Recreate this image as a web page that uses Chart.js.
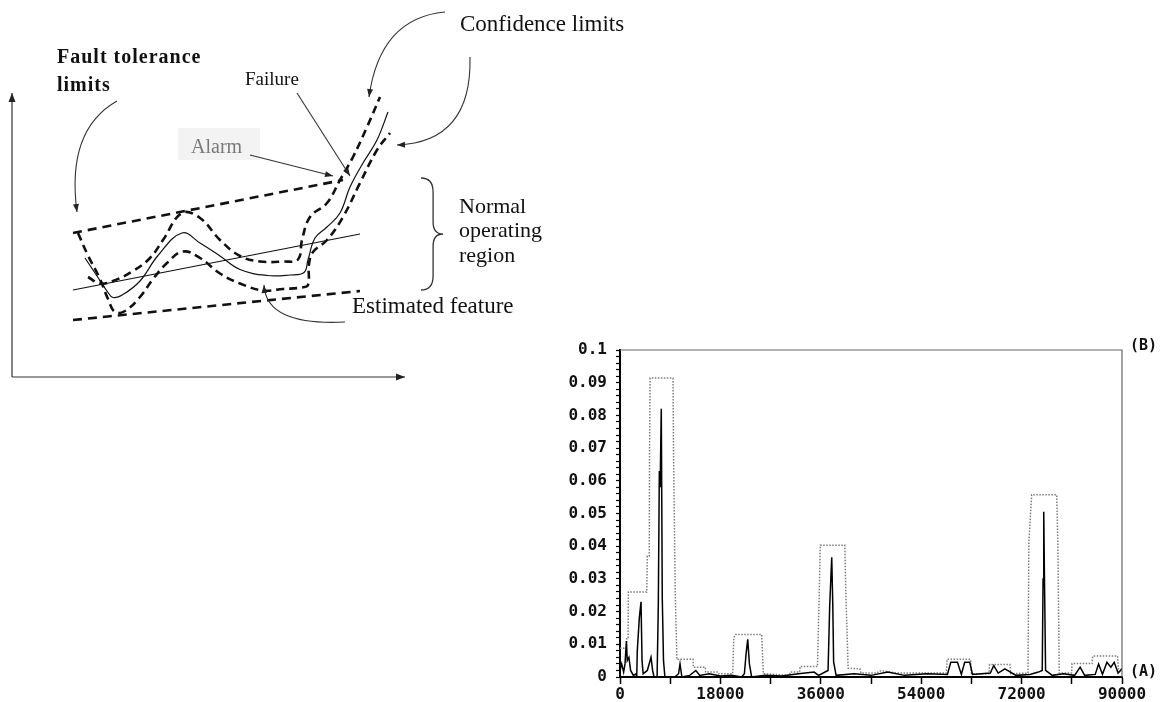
<!DOCTYPE html>
<html lang="en">
<head>
<meta charset="UTF-8">
<title>Fault tolerance limits and detection trace</title>
<script src="https://cdn.jsdelivr.net/npm/chart.js"></script>
<style>
  html, body { margin: 0; padding: 0; background: #fff; }
  body { width: 1162px; height: 702px; position: relative; overflow: hidden; }
  #sketch { position: absolute; left: 0; top: 0; }
  #trace { position: absolute; left: 555px; top: 330px; }
</style>
</head>
<body>
<canvas id="sketch" width="660" height="420"></canvas>
<canvas id="trace" width="607" height="372"></canvas>
<script>
// ---- schematic (left), in sketch units ----
const upperLimit = [[73, 233], [343, 180]];
const lowerLimit = [[73, 320], [360, 291]];
const trendLine = [[73, 290], [360, 234]];
const feature = [[85, 258], [97, 276], [107, 291], [113, 297.5], [123, 294.5], [140, 281], [158, 255.5], [182, 233],
  [200, 243], [220, 256], [240, 269.5], [267, 275.5], [290, 275], [304, 272.5], [308, 260], [315, 238], [327, 227],
  [340, 213], [350, 187], [363, 163], [377, 140], [388, 112]];
const upperConf = [[88, 277], [100, 283.5], [113, 281], [133, 271], [150, 258], [163, 240], [182, 213], [200, 218],
  [220, 240], [240, 256], [260, 261.5], [283, 261.5], [298, 259.5], [302, 240], [310, 217], [327, 203], [340, 180],
  [353, 157], [367, 127], [380, 97]];
const lowerConf = [[78, 233], [88, 255.5], [100, 279], [108, 299], [115, 312], [125, 311], [140, 297], [153, 279],
  [167, 263], [183, 251.5], [200, 258], [220, 273.5], [240, 283.5], [263, 290.5], [283, 289], [302, 287.5],
  [308, 285], [309, 264], [313, 252], [327, 240], [343, 217], [360, 183], [377, 150], [390, 133]];
const axisV = [[12, 377], [12, 93]];
const axisH = [[12, 377], [405, 377]];

const sketchTexts = [
  { t: 'Fault tolerance', x: 57, y: 63, font: 'bold 20px "Liberation Serif"', gap: 1 },
  { t: 'limits', x: 57, y: 91, font: 'bold 20px "Liberation Serif"', gap: 1 },
  { t: 'Failure', x: 245, y: 85, font: '19px "Liberation Serif"' },
  { t: 'Alarm', x: 191, y: 153, font: '20px "Liberation Serif"', color: '#7a7a7a' },
  { t: 'Confidence limits', x: 460, y: 31, font: '23px "Liberation Serif"' },
  { t: 'Normal', x: 459, y: 213, font: '22px "Liberation Serif"' },
  { t: 'operating', x: 459, y: 237, font: '22px "Liberation Serif"' },
  { t: 'region', x: 459, y: 262, font: '22px "Liberation Serif"' },
  { t: 'Estimated feature', x: 352, y: 313, font: '23px "Liberation Serif"' }
];
// start, (control), tip
const sketchArrows = [
  [[117, 101], [66, 130], [77, 212]],
  [[445, 12], [380, 18], [369, 97]],
  [[470, 57], [472, 142], [397, 145]],
  [[345, 322], [266, 326], [264, 285]],
  [[250, 155], [333, 176]],
  [[297, 93], [350, 176]]
];
const alarmBox = [178, 128, 260, 160];
const brace = [421, 178, 443, 290];

// ---- trace (right) ----
const traceAX = [0, 300, 650, 900, 1150, 1300, 1600, 1900, 2400, 2900, 3000, 3100, 3460, 3770, 3950, 4150, 4900,
  5560, 5850, 6100, 6650, 6870, 7050, 7200, 7400, 7580, 7800, 8050, 9800, 10500, 10760, 11100, 12500, 13600,
  14300, 16000, 18000, 20000, 21800, 22300, 22600, 22900, 23200, 23600, 26000, 29000, 32000, 34800, 35600,
  37300, 37600, 37960, 38150, 38300, 38750, 42000, 45000, 48000, 51000, 55000, 58700, 59300, 60500, 61200,
  61800, 62700, 63200, 66400, 67000, 67800, 69000, 71000, 73500, 75000, 75700, 75850, 75970, 76100, 76300,
  77500, 79500, 81500, 82500, 83300, 85200, 85800, 86500, 87300, 88000, 88600, 89300, 90000];
const traceAY = [0.002, 0.004, 0.0015, 0.004, 0.011, 0.005, 0.006, 0.002, 0.0005, 0.001, 0.0, 0.008, 0.018, 0.023,
  0.005, 0.001, 0.002, 0.006, 0.002, 0.0, 0.0, 0.022, 0.063, 0.058, 0.082, 0.024, 0.005, 0.0, 0.0, 0.001, 0.004,
  0.0, 0.0005, 0.002, 0.0005, 0.001, 0.0003, 0.0005, 0.0, 0.001, 0.007, 0.0115, 0.004, 0.0, 0.0005, 0.0003,
  0.001, 0.0015, 0.0005, 0.002, 0.022, 0.0366, 0.022, 0.0046, 0.0005, 0.001, 0.0005, 0.0015, 0.0005, 0.001,
  0.0008, 0.0045, 0.0045, 0.0008, 0.0045, 0.0045, 0.0008, 0.0012, 0.0035, 0.0012, 0.0025, 0.0005, 0.0008,
  0.0015, 0.002, 0.03, 0.0505, 0.03, 0.002, 0.0005, 0.001, 0.0005, 0.003, 0.0005, 0.0008, 0.004, 0.0008,
  0.0045, 0.003, 0.0045, 0.0012, 0.0025];
const traceBX = [0, 1150, 1200, 1450, 1500, 4800, 4900, 5250, 5300, 5400, 9500, 9600, 9900, 10200, 13100, 13150,
  15300, 15350, 17600, 17700, 20200, 20400, 20700, 25400, 25700, 30400, 30500, 32200, 32300, 35400, 35700,
  35900, 40300, 40500, 40900, 43000, 43200, 46000, 46500, 47500, 49500, 50500, 58500, 58650, 62850, 63000,
  66150, 66250, 69900, 70050, 73150, 73300, 73800, 78300, 78500, 78750, 80950, 81050, 84650, 84750, 89200,
  89350, 90000];
const traceBY = [0.0088, 0.0088, 0.012, 0.012, 0.026, 0.026, 0.037, 0.037, 0.07, 0.0914, 0.0914, 0.068, 0.026,
  0.0054, 0.0054, 0.003, 0.003, 0.0015, 0.0015, 0.001, 0.001, 0.012, 0.013, 0.013, 0.001, 0.0005, 0.0015,
  0.0015, 0.0032, 0.0032, 0.024, 0.0403, 0.0403, 0.025, 0.0027, 0.0025, 0.0012, 0.0012, 0.0018, 0.0018,
  0.0012, 0.0012, 0.0012, 0.0054, 0.0054, 0.001, 0.001, 0.0038, 0.0038, 0.001, 0.0012, 0.041, 0.0557, 0.0557,
  0.041, 0.0012, 0.0012, 0.0041, 0.0041, 0.0064, 0.0064, 0.0025, 0.0025];

const pts = arr => arr.map(p => ({ x: p[0], y: p[1] }));
const zip = (xs, ys) => xs.map((v, i) => ({ x: v, y: ys[i] }));

function arrowHead(ctx, fx, fy, tx, ty, len, half) {
  const a = Math.atan2(ty - fy, tx - fx);
  ctx.beginPath();
  ctx.moveTo(tx, ty);
  ctx.lineTo(tx - len * Math.cos(a) + half * Math.sin(a), ty - len * Math.sin(a) - half * Math.cos(a));
  ctx.lineTo(tx - len * Math.cos(a) - half * Math.sin(a), ty - len * Math.sin(a) + half * Math.cos(a));
  ctx.closePath();
  ctx.fill();
}

const sketchNotes = {
  id: 'sketchNotes',
  beforeDatasetsDraw(chart) {
    const { ctx, scales: { x, y } } = chart;
    ctx.save();
    ctx.fillStyle = '#f3f3f3';
    ctx.fillRect(x.getPixelForValue(alarmBox[0]), y.getPixelForValue(alarmBox[1]),
      x.getPixelForValue(alarmBox[2]) - x.getPixelForValue(alarmBox[0]),
      y.getPixelForValue(alarmBox[3]) - y.getPixelForValue(alarmBox[1]));
    ctx.restore();
  },
  afterDatasetsDraw(chart) {
    const { ctx, scales: { x, y } } = chart;
    const X = v => x.getPixelForValue(v), Y = v => y.getPixelForValue(v);
    ctx.save();
    // axis arrowheads
    ctx.fillStyle = '#222';
    arrowHead(ctx, X(axisV[0][0]), Y(axisV[0][1]), X(axisV[1][0]), Y(axisV[1][1]), 9, 3.5);
    arrowHead(ctx, X(axisH[0][0]), Y(axisH[0][1]), X(axisH[1][0]), Y(axisH[1][1]), 9, 3.5);

    // annotation arrows
    ctx.strokeStyle = '#333';
    ctx.fillStyle = '#222';
    ctx.lineWidth = 1.1;
    sketchArrows.forEach(a => {
      const p = a.map(q => [X(q[0]), Y(q[1])]);
      ctx.beginPath();
      ctx.moveTo(p[0][0], p[0][1]);
      if (p.length === 3) ctx.quadraticCurveTo(p[1][0], p[1][1], p[2][0], p[2][1]);
      else ctx.lineTo(p[1][0], p[1][1]);
      ctx.stroke();
      const n = p.length;
      arrowHead(ctx, p[n - 2][0], p[n - 2][1], p[n - 1][0], p[n - 1][1], 8, 3);
    });

    // brace
    const bx0 = X(brace[0]), by0 = Y(brace[1]), bx1 = X(brace[2]), by1 = Y(brace[3]);
    const bm = (by0 + by1) / 2, bc = bx0 + (bx1 - bx0) * 0.55;
    ctx.lineWidth = 1.3;
    ctx.beginPath();
    ctx.moveTo(bx0, by0);
    ctx.quadraticCurveTo(bc, by0, bc, by0 + 14);
    ctx.lineTo(bc, bm - 12);
    ctx.quadraticCurveTo(bc, bm, bx1, bm);
    ctx.quadraticCurveTo(bc, bm, bc, bm + 12);
    ctx.lineTo(bc, by1 - 14);
    ctx.quadraticCurveTo(bc, by1, bx0, by1);
    ctx.stroke();

    // texts
    ctx.textBaseline = 'alphabetic';
    ctx.textAlign = 'left';
    sketchTexts.forEach(s => {
      ctx.font = s.font;
      ctx.fillStyle = s.color || '#111';
      ctx.letterSpacing = (s.gap || 0) + 'px';
      ctx.fillText(s.t, X(s.x), Y(s.y));
    });
    ctx.restore();
  }
};

const dashed = { borderColor: '#111', borderWidth: 2.6, borderDash: [9, 6], pointRadius: 0, tension: 0, showLine: true, fill: false };
const curvedDash = { borderColor: '#111', borderWidth: 2.6, borderDash: [8, 5], pointRadius: 0, tension: 0.4, showLine: true, fill: false };
const thin = { borderColor: '#111', borderWidth: 1.2, pointRadius: 0, tension: 0, showLine: true, fill: false };

new Chart(document.getElementById('sketch'), {
  type: 'scatter',
  data: {
    datasets: [
      Object.assign({ label: 'Upper fault tolerance limit', data: pts(upperLimit) }, dashed),
      Object.assign({ label: 'Lower fault tolerance limit', data: pts(lowerLimit) }, dashed),
      Object.assign({ label: 'Trend', data: pts(trendLine) }, thin),
      Object.assign({ label: 'Estimated feature', data: pts(feature) }, thin, { tension: 0.4 }),
      Object.assign({ label: 'Upper confidence limit', data: pts(upperConf) }, curvedDash),
      Object.assign({ label: 'Lower confidence limit', data: pts(lowerConf) }, curvedDash),
      Object.assign({ label: 'Vertical axis', data: pts(axisV) }, thin, { borderColor: '#333' }),
      Object.assign({ label: 'Horizontal axis', data: pts(axisH) }, thin, { borderColor: '#333' })
    ]
  },
  options: {
    responsive: false,
    animation: false,
    layout: { padding: 0 },
    plugins: { legend: { display: false }, tooltip: { enabled: false } },
    scales: {
      x: { type: 'linear', min: 0, max: 660, display: false },
      y: { type: 'linear', min: 0, max: 420, reverse: true, display: false }
    }
  },
  plugins: [sketchNotes]
});

const monoFont = { family: '"DejaVu Sans Mono", "Liberation Mono", monospace', size: 16, weight: 'bold' };

const traceFrame = {
  id: 'traceFrame',
  afterDraw(chart) {
    const { ctx, chartArea: a, scales: { y } } = chart;
    ctx.save();
    ctx.strokeStyle = '#666';
    ctx.lineWidth = 1.2;
    ctx.beginPath();
    ctx.moveTo(a.left, a.top);
    ctx.lineTo(a.right, a.top);
    ctx.lineTo(a.right, a.bottom);
    ctx.stroke();
    ctx.fillStyle = '#111';
    ctx.font = 'bold 15px "DejaVu Sans Mono", monospace';
    ctx.textBaseline = 'middle';
    ctx.fillText('(B)', a.right + 8, y.getPixelForValue(0.1) - 4);
    ctx.fillText('(A)', a.right + 8, y.getPixelForValue(0) - 5);
    ctx.restore();
  }
};

new Chart(document.getElementById('trace'), {
  type: 'scatter',
  data: {
    datasets: [
      { label: 'A', data: zip(traceAX, traceAY), showLine: true, borderColor: '#000', borderWidth: 1.5,
        pointRadius: 0, tension: 0, fill: false },
      { label: 'B', data: zip(traceBX, traceBY), showLine: true, borderColor: '#7d7d7d', borderWidth: 1.5,
        borderDash: [1.5, 1.5], pointRadius: 0, tension: 0, fill: false }
    ]
  },
  options: {
    responsive: false,
    animation: false,
    layout: { padding: { top: 20, right: 40, left: 0, bottom: 0 } },
    plugins: { legend: { display: false }, tooltip: { enabled: false } },
    scales: {
      x: {
        type: 'linear', min: 0, max: 90000,
        afterFit: s => { s.height = 25; },
        border: { color: '#000', width: 2 },
        grid: { drawOnChartArea: false, tickLength: 7, color: '#000', tickWidth: 1.5 },
        ticks: {
          stepSize: 9000, autoSkip: false, maxRotation: 0, padding: 1, color: '#111', font: monoFont,
          callback: v => (v % 18000 === 0 ? String(v) : '')
        }
      },
      y: {
        type: 'linear', min: 0, max: 0.1,
        afterFit: s => { s.width = 65; },
        border: { color: '#000', width: 2 },
        grid: { drawOnChartArea: false, tickLength: 4, color: '#000', tickWidth: 1.2 },
        ticks: {
          stepSize: 0.002, autoSkip: false, padding: 9, color: '#111', font: monoFont,
          callback: v => {
            const r = Math.round(v * 1000);
            return r % 10 === 0 ? String(r / 1000) : '';
          }
        }
      }
    }
  },
  plugins: [traceFrame]
});
</script>
</body>
</html>
